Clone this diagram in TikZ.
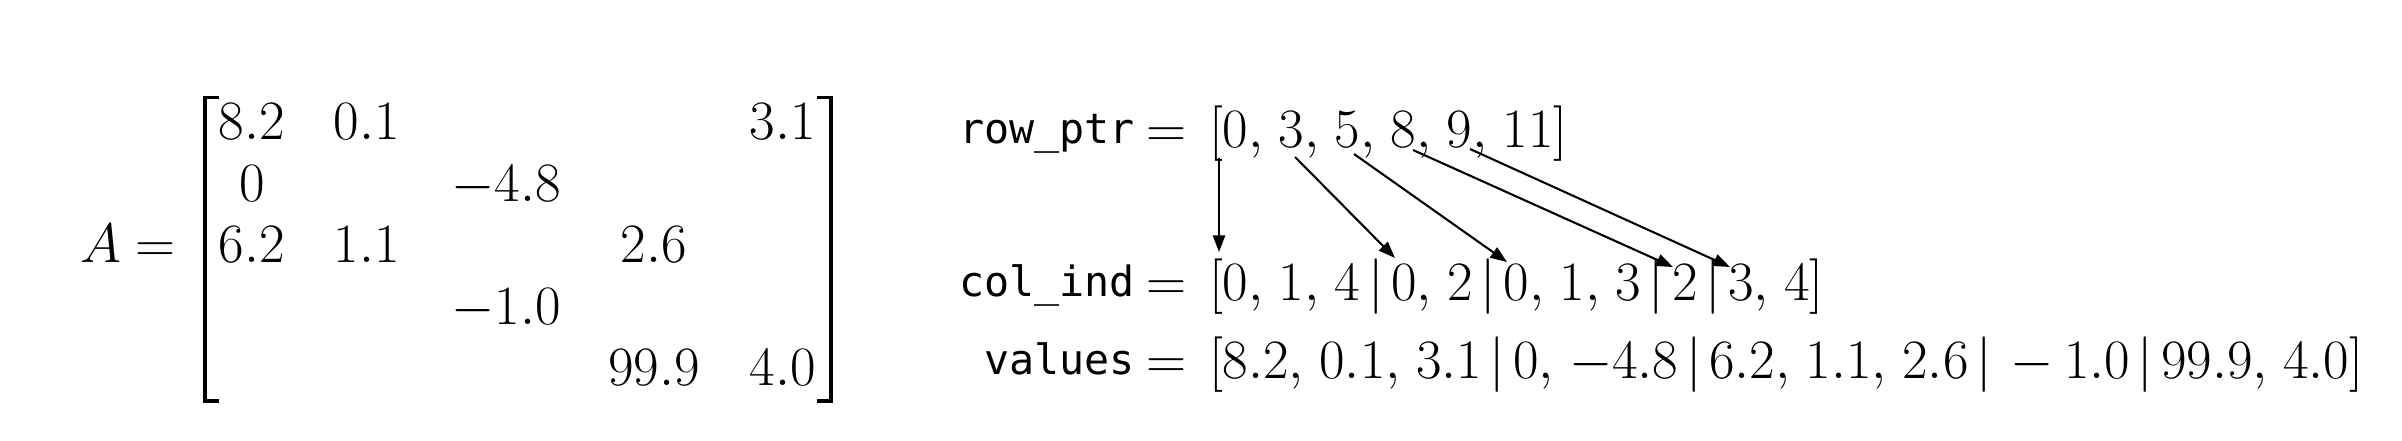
\RequirePackage{fix-cm}
\documentclass[tikz,border=0pt]{standalone}
\usepackage{fontspec}
\newfontfamily\monof{DejaVu Sans Mono}
\usetikzlibrary{arrows.meta}
\newcommand\cma{,\mkern2mu }
\newcommand\sep{\mkern2.5mu|\mkern2.5mu}
\newcommand\bmin{\mkern3.5mu{-}\mkern3.5mu}
\begin{document}
\begin{tikzpicture}[x=0.36pt,y=-0.36pt,
  mtxt/.style={inner sep=0pt, outer sep=0pt, font=\fontsize{20}{24}\selectfont},
  lbl/.style={inner sep=0pt, outer sep=0pt, font=\fontsize{15}{18}\selectfont\monof, anchor=base east},
  entry/.style={mtxt, anchor=base},
  brk/.style={line width=1.2pt, line join=miter},
  ptr/.style={-{Triangle[length=6pt,width=4.4pt]}, line width=0.75pt}]
\useasboundingbox (0,0) rectangle (2402,440);
% matrix
\node[mtxt, anchor=base west] (A) at (80,262) {$A$};
\node[mtxt, anchor=base west] (Aeq) at (135,262) {$=$};
\draw[brk] (219,97.5) -- (205,97.5) -- (205,401) -- (219,401);
\draw[brk] (817,97.5) -- (831,97.5) -- (831,401) -- (817,401);
\node[entry] (a11) at (252,139) {$8.2$};
\node[entry] (a12) at (367,139) {$0.1$};
\node[entry] (a15) at (783,139) {$3.1$};
\node[entry] (a21) at (252,201) {$0$};
\node[entry] (a23) at (506,201) {$-4.8$};
\node[entry] (a31) at (252,262) {$6.2$};
\node[entry] (a32) at (367,262) {$1.1$};
\node[entry] (a34) at (654,262) {$2.6$};
\node[entry] (a43) at (506,324) {$-1.0$};
\node[entry] (a54) at (654,385) {$99.9$};
\node[entry] (a55) at (783,385) {$4.0$};
% CSR arrays
\node[lbl] (lrp) at (1135,143) {row\_ptr};
\node[lbl] (lci) at (1135,296) {col\_ind};
\node[lbl] (lva) at (1135,374) {values};
\node[mtxt, anchor=base west] (erp) at (1146,147) {$=$};
\node[mtxt, anchor=base west] (eci) at (1146,300) {$=$};
\node[mtxt, anchor=base west] (eva) at (1146,378) {$=$};
\node[mtxt, anchor=base west] (rp) at (1209,147) {$[0\cma 3\cma 5\cma 8\cma 9\cma 11]$};
\node[mtxt, anchor=base west] (ci) at (1209,300) {$[0\cma 1\cma 4\sep 0\cma 2\sep 0\cma 1\cma 3\sep 2\sep 3\cma 4]$};
\node[mtxt, anchor=base west] (va) at (1209,378) {$[8.2\cma 0.1\cma 3.1\sep 0\cma -4.8\sep 6.2\cma 1.1\cma 2.6\sep\bmin 1.0\sep 99.9\cma 4.0]$};
% arrows
\coordinate (p0s) at (1219,158); \coordinate (p0e) at (1219,252);
\coordinate (p1s) at (1295,157); \coordinate (p1e) at (1395,258);
\coordinate (p2s) at (1354,154); \coordinate (p2e) at (1507,262);
\coordinate (p3s) at (1413,150); \coordinate (p3e) at (1673,267);
\coordinate (p4s) at (1470,149); \coordinate (p4e) at (1730,267);
\draw[ptr] (p0s) -- (p0e);
\draw[ptr] (p1s) -- (p1e);
\draw[ptr] (p2s) -- (p2e);
\draw[ptr] (p3s) -- (p3e);
\draw[ptr] (p4s) -- (p4e);
\end{tikzpicture}
\end{document}
